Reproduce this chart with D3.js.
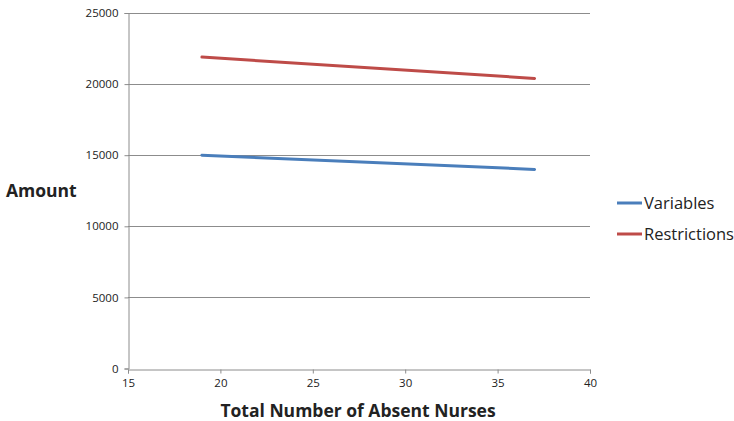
<!DOCTYPE html>
<html>
<head>
<meta charset="utf-8">
<script src="https://cdn.jsdelivr.net/npm/d3@7"></script>
<style>
  html, body { margin: 0; padding: 0; background: #fff; }
  text { font-family: "Open Sans", "Liberation Sans", sans-serif; fill: #222; }
</style>
</head>
<body>
<svg id="chart" width="734" height="421"></svg>
<script>
// Absent nurses vs. model size
const seriesNames = ["Variables", "Restrictions"];
const absentNurses = [19, 37];
const variablesValues = [15000, 14000];
const restrictionsValues = [21900, 20400];
const xTicks = [15, 20, 25, 30, 35, 40];
const yTicks = [0, 5000, 10000, 15000, 20000, 25000];
const colors = ["#4a7ebb", "#be4b48"];

const svg = d3.select("#chart");
const plotLeft = 128, plotRight = 590, plotTop = 13, plotBottom = 368.5;

const x = d3.scaleLinear().domain([15, 40]).range([plotLeft, plotRight]);
const y = d3.scaleLinear().domain([0, 25000]).range([plotBottom, plotTop]);

// horizontal gridlines
svg.append("g")
  .selectAll("line")
  .data(yTicks.filter(d => d > 0))
  .join("line")
  .attr("x1", plotLeft).attr("x2", plotRight)
  .attr("y1", d => Math.round(y(d)) + 0.5).attr("y2", d => Math.round(y(d)) + 0.5)
  .attr("stroke", "#8c8c8c").attr("stroke-width", 1);

// x axis
const xAxis = svg.append("g")
  .attr("transform", `translate(0,${Math.round(plotBottom) + 0.5})`)
  .call(d3.axisBottom(x).tickValues(xTicks).tickSize(4).tickPadding(5).tickFormat(d3.format("d")));
// y axis
const yAxis = svg.append("g")
  .attr("transform", `translate(${plotLeft + 0.5},0)`)
  .call(d3.axisLeft(y).tickValues(yTicks).tickSize(4).tickPadding(6).tickFormat(d3.format("d")));

[xAxis, yAxis].forEach(a => {
  a.select(".domain").attr("stroke", "#8c8c8c");
  a.selectAll(".tick line").attr("stroke", "#8c8c8c");
  a.selectAll(".tick text")
    .attr("font-family", "'Open Sans', 'Liberation Sans', sans-serif")
    .attr("font-size", 11.5).attr("fill", "#222");
});

// series lines
const series = [variablesValues, restrictionsValues];
const line = d3.line().x((d, i) => x(absentNurses[i])).y(d => y(d));
series.forEach((vals, k) => {
  svg.append("path")
    .datum(vals)
    .attr("d", line)
    .attr("fill", "none")
    .attr("stroke", colors[k])
    .attr("stroke-width", 3)
    .attr("stroke-linecap", "round");
});

// axis titles
svg.append("text")
  .attr("x", 358).attr("y", 417)
  .attr("text-anchor", "middle")
  .attr("font-size", 17.5).attr("font-weight", "bold")
  .text("Total Number of Absent Nurses");
svg.append("text")
  .attr("x", 6).attr("y", 197)
  .attr("font-size", 17.5).attr("font-weight", "bold")
  .text("Amount");

// legend
const legend = svg.append("g");
seriesNames.forEach((name, k) => {
  const ly = 203 + k * 31;
  legend.append("line")
    .attr("x1", 617).attr("x2", 642)
    .attr("y1", ly).attr("y2", ly)
    .attr("stroke", colors[k]).attr("stroke-width", 3);
  legend.append("text")
    .attr("x", 644).attr("y", ly + 6)
    .attr("font-size", 16.5)
    .text(name);
});
</script>
</body>
</html>
